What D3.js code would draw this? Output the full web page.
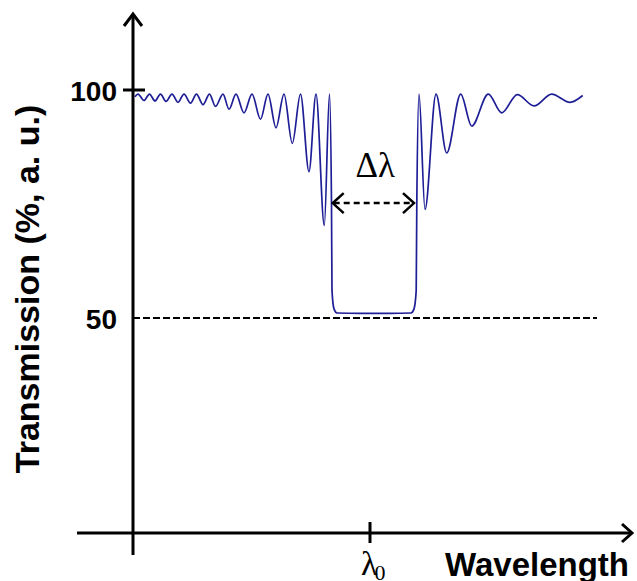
<!DOCTYPE html>
<html>
<head>
<meta charset="utf-8">
<script src="https://cdn.jsdelivr.net/npm/d3@7"></script>
<style>
  html, body { margin: 0; padding: 0; background: #fff; }
  svg { display: block; }
</style>
</head>
<body>
<svg id="chart" width="637" height="581"></svg>
<script>
// ---------- data (relative wavelength units, transmission %) ----------
const wavelength = [
  2, 5, 11, 16.5, 22, 27.5, 33, 39, 45, 51, 57.5, 63.5, 70, 76.5, 82.5, 90, 96, 103,
  111, 119, 127.5, 135, 143, 151, 159.3, 167.5, 176, 183, 191.3, 196.5,
  198.5, 199, 201, 204, 227, 257, 278, 281, 283.2, 283.8,
  286, 292, 303, 313.7, 327.7, 338.7, 355.3, 368.7, 384.3, 401, 418.7, 437, 449.7
];
const transmission = [
  98.5, 99.1, 97.7, 99.1, 97.6, 99.1, 97.5, 99.1, 97.3, 99.1, 97.1, 99.1, 96.8, 99.1, 96.4, 99.1, 95.8, 99.1,
  95.0, 99.1, 93.6, 99.1, 91.7, 99.1, 88.3, 99.1, 82.1, 99.1, 70.3, 99.1,
  75, 56, 52, 51.1, 51.0, 51.0, 51.1, 52, 56, 75,
  99.1, 73.8, 99.1, 86.2, 99.1, 92.1, 99.1, 95.0, 99.0, 96.5, 99.1, 97.3, 98.8
];
const yTickValues = [100, 50];
const yTickLabels = ["100", "50"];
const centerWavelength = 237;            // λ0
const bandEdges = [198.7, 282];          // Δλ arrow ends
const bandArrowLevel = 75.2;
const halfLevel = 50;
const halfLineEnd = 464;

// ---------- layout ----------
const svg = d3.select("#chart");
const axisX = 133, axisY = 533;
const x = d3.scaleLinear().domain([0, 500]).range([133, 633]);
const y = d3.scaleLinear().domain([50, 100]).range([318, 90]);
const curveColor = "#1e1e96";

// half-maximum dashed line
svg.append("line")
  .attr("x1", x(0)).attr("x2", x(halfLineEnd))
  .attr("y1", y(halfLevel)).attr("y2", y(halfLevel))
  .attr("stroke", "#000").attr("stroke-width", 2.2)
  .attr("stroke-dasharray", "7,3");

// spectrum
const pts = wavelength.map((w, i) => [w, transmission[i]]);
svg.append("path")
  .datum(pts)
  .attr("fill", "none")
  .attr("stroke", curveColor)
  .attr("stroke-width", 1.7)
  .attr("d", d3.line().x(d => x(d[0])).y(d => y(d[1])).curve(d3.curveMonotoneX));

// axes lines
const ax = svg.append("g").attr("stroke", "#000").attr("stroke-width", 3).attr("fill", "none")
  .attr("stroke-linecap", "butt");
ax.append("line").attr("x1", axisX).attr("x2", axisX).attr("y1", 555).attr("y2", 14);
ax.append("polyline").attr("points", `${axisX-9},26 ${axisX},14 ${axisX+9},26`).attr("stroke-linejoin", "miter");
ax.append("line").attr("x1", 77).attr("x2", 632).attr("y1", axisY).attr("y2", axisY);
ax.append("polyline").attr("points", `622,524 632,${axisY} 622,542`);

// y axis labels via d3 axis
const yAxis = d3.axisLeft(y).tickValues(yTickValues).tickSize(0).tickPadding(16)
  .tickFormat((d, i) => yTickLabels[i]);
const yg = svg.append("g").attr("transform", `translate(${axisX},0)`).call(yAxis);
yg.select(".domain").remove();
yg.selectAll("text")
  .attr("font-family", "Liberation Sans, Arial, sans-serif")
  .attr("font-weight", "bold").attr("font-size", 28).attr("fill", "#000")
  .attr("dy", "0.36em");
// 100 tick crossing the axis
svg.append("line").attr("x1", axisX - 10).attr("x2", axisX + 12)
  .attr("y1", y(100)).attr("y2", y(100)).attr("stroke", "#000").attr("stroke-width", 3);

// λ0 tick
svg.append("line").attr("x1", x(centerWavelength)).attr("x2", x(centerWavelength))
  .attr("y1", axisY - 11).attr("y2", axisY + 10).attr("stroke", "#000").attr("stroke-width", 3);
const l0 = svg.append("text")
  .attr("x", x(centerWavelength) - 9).attr("y", 575)
  .attr("font-family", "Liberation Serif, Times New Roman, serif")
  .attr("font-size", 34).attr("fill", "#000");
l0.append("tspan").text("λ");
l0.append("tspan").attr("font-size", 22).attr("dy", 5).attr("dx", -3).text("0");

// axis titles
svg.append("text")
  .attr("x", 445).attr("y", 576)
  .attr("font-family", "Liberation Sans, Arial, sans-serif")
  .attr("font-weight", "bold").attr("font-size", 33).attr("fill", "#000")
  .text("Wavelength");
svg.append("text")
  .attr("transform", "translate(39,289) rotate(-90)")
  .attr("text-anchor", "middle")
  .attr("font-family", "Liberation Sans, Arial, sans-serif")
  .attr("font-weight", "bold").attr("font-size", 34).attr("fill", "#000")
  .text("Transmission (%, a. u.)");

// Δλ annotation
const ay = y(bandArrowLevel);
const xa = x(bandEdges[0]), xb = x(bandEdges[1]);
svg.append("line").attr("x1", xa + 2).attr("x2", xb - 2).attr("y1", ay).attr("y2", ay)
  .attr("stroke", "#000").attr("stroke-width", 2.5).attr("stroke-dasharray", "6,4");
svg.append("polyline").attr("points", `${xa+12},${ay-10} ${xa+1},${ay} ${xa+12},${ay+10}`)
  .attr("fill", "none").attr("stroke", "#000").attr("stroke-width", 2.5);
svg.append("polyline").attr("points", `${xb-12},${ay-10} ${xb-1},${ay} ${xb-12},${ay+10}`)
  .attr("fill", "none").attr("stroke", "#000").attr("stroke-width", 2.5);
svg.append("text")
  .attr("x", (xa + xb) / 2 + 2).attr("y", 177)
  .attr("text-anchor", "middle")
  .attr("font-family", "Liberation Serif, Times New Roman, serif")
  .attr("font-size", 35).attr("fill", "#000")
  .text("Δλ");
</script>
</body>
</html>
